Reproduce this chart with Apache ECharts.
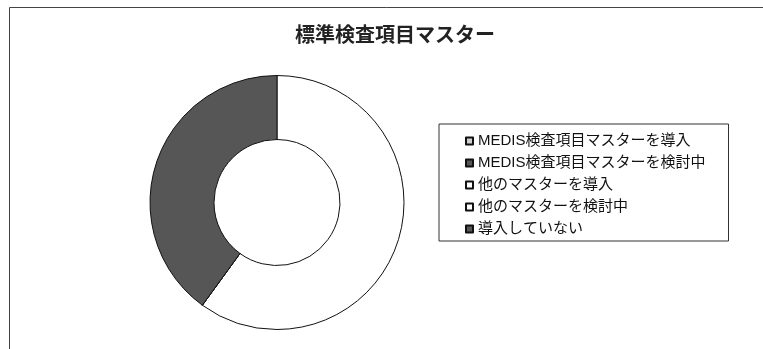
<!DOCTYPE html>
<html>
<head>
<meta charset="utf-8">
<script src="https://cdn.jsdelivr.net/npm/echarts@6/dist/echarts.min.js"></script>
<style>
  html, body { margin: 0; padding: 0; background: #fff; }
  #main { width: 763px; height: 349px; }
</style>
</head>
<body>
<div id="main"></div>
<script>
// 標準検査項目マスター
var categories = [
  'MEDIS検査項目マスターを導入',
  'MEDIS検査項目マスターを検討中',
  '他のマスターを導入',
  '他のマスターを検討中',
  '導入していない'
];
var values = [0, 0, 3, 0, 2];
var sliceColors = ['#cfcfcf', '#565656', '#ffffff', '#ffffff', '#565656'];

var myChart = echarts.init(document.getElementById('main'));

var pieData = [];
for (var i = 0; i < categories.length; i++) {
  pieData.push({
    name: categories[i],
    value: values[i],
    itemStyle: { color: sliceColors[i] }
  });
}

var font = '"Liberation Sans", "Noto Sans CJK JP", sans-serif';

var option = {
  animation: false,
  backgroundColor: '#fff',
  title: {
    text: '標準検査項目マスター',
    left: 390,
    top: 19,
    textAlign: 'center',
    textStyle: { fontFamily: '"Noto Sans CJK JP", sans-serif', fontSize: 20, fontWeight: 'bold', color: '#222' }
  },
  graphic: [{
    type: 'rect',
    shape: { x: 9.5, y: 7.5, width: 800, height: 400 },
    style: { fill: null, stroke: '#444', lineWidth: 1 },
    silent: true
  }],
  legend: {
    orient: 'vertical',
    left: 439,
    top: 124,
    padding: [9, 23, 4, 26],
    itemGap: 6,
    itemWidth: 7,
    itemHeight: 7,
    icon: 'rect',
    borderColor: '#333',
    borderWidth: 1,
    selectedMode: false,
    textStyle: { fontFamily: font, fontSize: 15, color: '#111', lineHeight: 16 },
    data: categories
  },
  series: [{
    type: 'pie',
    center: [277, 202.5],
    radius: [63, 127],
    startAngle: 90,
    clockwise: true,
    label: { show: false },
    labelLine: { show: false },
    emphasis: { disabled: true },
    itemStyle: { borderColor: '#111', borderWidth: 1 },
    data: pieData
  }]
};

myChart.setOption(option);
</script>
</body>
</html>
